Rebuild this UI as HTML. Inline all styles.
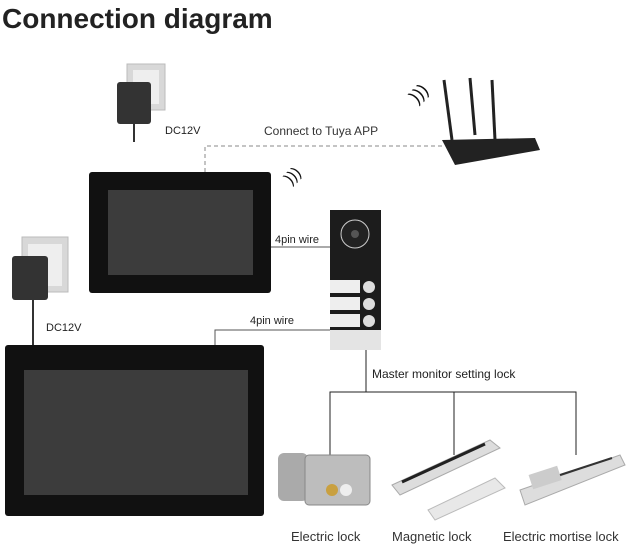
<!DOCTYPE html><html><head><style>
html,body{margin:0;padding:0;background:#fff;}
svg{display:block;font-family:"Liberation Sans",sans-serif;}
</style></head><body>
<svg width="640" height="552" viewBox="0 0 640 552" xmlns="http://www.w3.org/2000/svg">
<rect width="640" height="552" fill="#fff"/>
<text x="2" y="28" font-size="28" font-weight="bold" fill="#222">Connection diagram</text>
<!-- adapter 1 -->
<rect x="127" y="64" width="38" height="46" fill="#d8d8d8" stroke="#bbb"/>
<rect x="133" y="70" width="26" height="34" fill="#eee"/>
<rect x="117" y="82" width="34" height="42" rx="3" fill="#333"/>
<line x1="134" y1="124" x2="134" y2="142" stroke="#333" stroke-width="2"/>
<text x="165" y="134" font-size="11" fill="#222">DC12V</text>
<!-- adapter 2 -->
<rect x="22" y="237" width="46" height="55" fill="#d8d8d8" stroke="#bbb"/>
<rect x="28" y="244" width="34" height="42" fill="#eee"/>
<rect x="12" y="256" width="36" height="44" rx="3" fill="#333"/>
<line x1="33" y1="300" x2="33" y2="346" stroke="#333" stroke-width="2"/>
<text x="46" y="331" font-size="11" fill="#222">DC12V</text>
<!-- dashed -->
<path d="M205 172 V146 H442" fill="none" stroke="#888" stroke-dasharray="4,3"/>
<text x="264" y="135" font-size="12" fill="#333">Connect to Tuya APP</text>
<!-- router -->
<line x1="452" y1="140" x2="444" y2="80" stroke="#222" stroke-width="3"/>
<line x1="475" y1="135" x2="470" y2="78" stroke="#222" stroke-width="3"/>
<line x1="495" y1="140" x2="492" y2="80" stroke="#222" stroke-width="3"/>
<path d="M442 140 L535 138 L540 150 L455 165 Z" fill="#222"/>
<text x="410" y="100" font-size="18" fill="#111" transform="rotate(-45 418 94)">)))</text>
<text x="282" y="180" font-size="16" fill="#111" transform="rotate(-45 292 172)">)))</text>
<!-- monitor 1 -->
<rect x="89" y="172" width="182" height="121" rx="3" fill="#111"/>
<rect x="108" y="190" width="145" height="85" fill="#3c3c3c"/>
<!-- monitor 2 -->
<rect x="5" y="345" width="259" height="171" rx="3" fill="#111"/>
<rect x="24" y="370" width="224" height="125" fill="#3c3c3c"/>
<!-- wires -->
<line x1="271" y1="247" x2="330" y2="247" stroke="#555"/>
<text x="275" y="243" font-size="11" fill="#222">4pin wire</text>
<path d="M215 345 V330 H330" fill="none" stroke="#555"/>
<text x="250" y="324" font-size="11" fill="#222">4pin wire</text>
<!-- doorbell -->
<rect x="330" y="210" width="51" height="140" fill="#e4e4e4"/>
<rect x="330" y="210" width="51" height="120" fill="#1c1c1c"/>
<circle cx="355" cy="234" r="14" fill="#222" stroke="#ccc"/>
<circle cx="355" cy="234" r="4" fill="#555"/>
<rect x="330" y="280" width="30" height="13" fill="#eee"/>
<rect x="330" y="297" width="30" height="13" fill="#eee"/>
<rect x="330" y="314" width="30" height="13" fill="#eee"/>
<circle cx="369" cy="287" r="6" fill="#ddd"/>
<circle cx="369" cy="304" r="6" fill="#ddd"/>
<circle cx="369" cy="321" r="6" fill="#ddd"/>
<!-- lock tree -->
<line x1="366" y1="350" x2="366" y2="392" stroke="#222"/>
<text x="372" y="378" font-size="12" fill="#222">Master monitor setting lock</text>
<path d="M330 455 V392 H576 V455 M454 392 V455" fill="none" stroke="#222"/>
<!-- electric lock -->
<rect x="278" y="453" width="30" height="48" rx="6" fill="#aaa"/>
<rect x="305" y="455" width="65" height="50" rx="4" fill="#bdbdbd" stroke="#888"/>
<circle cx="332" cy="490" r="6" fill="#c9a040"/>
<circle cx="346" cy="490" r="6" fill="#eee"/>
<!-- magnetic lock -->
<path d="M392 485 L490 440 L500 448 L400 495 Z" fill="#ddd" stroke="#aaa"/>
<path d="M402 482 L485 444" stroke="#222" stroke-width="3"/>
<path d="M428 510 L495 478 L505 488 L435 520 Z" fill="#e8e8e8" stroke="#bbb"/>
<!-- mortise -->
<path d="M520 490 L620 455 L625 465 L525 505 Z" fill="#ddd" stroke="#aaa"/>
<rect x="530" y="470" width="30" height="15" fill="#ccc" transform="rotate(-18 545 477)"/>
<line x1="560" y1="475" x2="612" y2="458" stroke="#333" stroke-width="2"/>
<text x="291" y="541" font-size="13" fill="#333">Electric lock</text>
<text x="392" y="541" font-size="13" fill="#333">Magnetic lock</text>
<text x="503" y="541" font-size="13" fill="#333">Electric mortise lock</text>
</svg>
</body></html>
